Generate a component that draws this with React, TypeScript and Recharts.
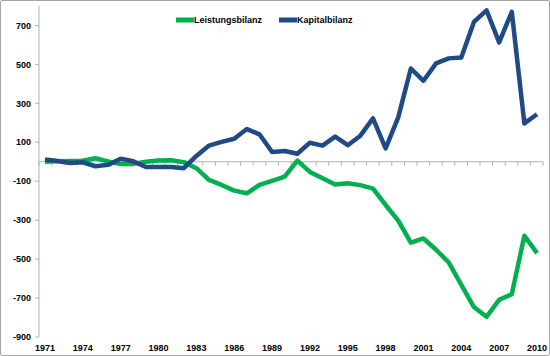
import { LineChart, Line, XAxis, YAxis, ReferenceLine, Legend } from "recharts";

const YEARS = [
  "1971", "1972", "1973", "1974", "1975", "1976", "1977", "1978", "1979", "1980",
  "1981", "1982", "1983", "1984", "1985", "1986", "1987", "1988", "1989", "1990",
  "1991", "1992", "1993", "1994", "1995", "1996", "1997", "1998", "1999", "2000",
  "2001", "2002", "2003", "2004", "2005", "2006", "2007", "2008", "2009", "2010",
];

const LEISTUNGSBILANZ = [
  0, 2, 4, 5, 18, 2, -12, -11, 0, 6,
  8, -2, -33, -93, -119, -148, -162, -119, -98, -76,
  6, -52, -85, -117, -110, -120, -138, -222, -302, -415,
  -394, -452, -517, -632, -746, -796, -709, -680, -380, -469,
];

const KAPITALBILANZ = [
  12, 4, -6, -3, -23, -16, 16, 3, -27, -27,
  -27, -33, 30, 83, 102, 118, 168, 141, 50, 55,
  41, 98, 83, 129, 85, 134, 223, 69, 228, 479,
  416, 505, 531, 536, 718, 778, 613, 770, 197, 244,
];

const SERIES = ["Leistungsbilanz", "Kapitalbilanz"];

const Y_TICKS = [-900, -700, -500, -300, -100, 100, 300, 500, 700];

const GREEN = "#00B050";
const BLUE = "#1F4A85";
const GRID_GRAY = "#B3B3B3";
const FONT = "'Liberation Sans', Arial, sans-serif";

const data = YEARS.map((year, i) => ({
  year,
  Leistungsbilanz: LEISTUNGSBILANZ[i],
  Kapitalbilanz: KAPITALBILANZ[i],
}));

// horizontal axis sits at zero, with tick marks between the categories
function ZeroAxis(props: any) {
  const { x1, y1, x2 } = props;
  const step = (x2 - x1) / YEARS.length;
  const marks = [];
  for (let i = 0; i <= YEARS.length; i++) {
    const x = x1 + i * step;
    marks.push(<line key={i} x1={x} x2={x} y1={y1} y2={y1 + 4} stroke={GRID_GRAY} strokeWidth={1} />);
  }
  return (
    <g>
      <line x1={x1} x2={x2} y1={y1} y2={y1} stroke={GRID_GRAY} strokeWidth={1} />
      {marks}
    </g>
  );
}

function LegendContent({ payload }: any) {
  const items = SERIES.map((name) => (payload || []).find((p: any) => p.value === name)).filter(Boolean);
  return (
    <div style={{ display: "flex", alignItems: "center", fontFamily: FONT, fontSize: 9, fontWeight: "bold" }}>
      {items.map((entry: any) => (
        <div key={entry.value} style={{ display: "flex", alignItems: "center", marginRight: 17 }}>
          <svg width={18} height={10}>
            <line x1={0} x2={18} y1={5} y2={5} stroke={entry.color} strokeWidth={5} />
          </svg>
          <span style={{ color: "#000" }}>{entry.value}</span>
        </div>
      ))}
    </div>
  );
}

export default function App() {
  return (
    <div style={{ position: "absolute", top: 0, left: 0, width: 550, height: 356, background: "#fff" }}>
      <div
        style={{
          position: "absolute", top: 0, left: 0, width: 550, height: 356,
          border: "1px solid #A6A6A6", boxSizing: "border-box", borderRadius: 2,
        }}
      />
      <div style={{ position: "absolute", top: 0, left: 0 }}>
        <LineChart width={550} height={356} data={data} margin={{ top: 6, right: 7, bottom: 0, left: 0 }}>
          <XAxis
            dataKey="year"
            interval={2}
            axisLine={false}
            tickLine={false}
            height={19}
            padding={{ left: 6, right: 6 }}
            tick={{ fontSize: 9, fontWeight: "bold", fill: "#000", fontFamily: FONT }}
          />
          <YAxis
            domain={[-900, 800]}
            ticks={Y_TICKS}
            width={39}
            allowDataOverflow
            axisLine={{ stroke: GRID_GRAY }}
            tickLine={{ stroke: GRID_GRAY }}
            tickSize={4}
            tickMargin={4}
            tick={{ fontSize: 9, fontWeight: "bold", fill: "#000", fontFamily: FONT }}
          />
          <ReferenceLine y={0} shape={ZeroAxis} />
          <Legend
            layout="horizontal"
            verticalAlign="middle"
            align="center"
            content={LegendContent}
            wrapperStyle={{ top: 15, left: 176, width: "auto" }}
          />
          <Line
            type="linear"
            dataKey="Leistungsbilanz"
            stroke={GREEN}
            strokeWidth={4.5}
            dot={false}
            strokeLinejoin="round"
            isAnimationActive={false}
          />
          <Line
            type="linear"
            dataKey="Kapitalbilanz"
            stroke={BLUE}
            strokeWidth={4.5}
            dot={false}
            strokeLinejoin="round"
            isAnimationActive={false}
          />
        </LineChart>
      </div>
    </div>
  );
}
